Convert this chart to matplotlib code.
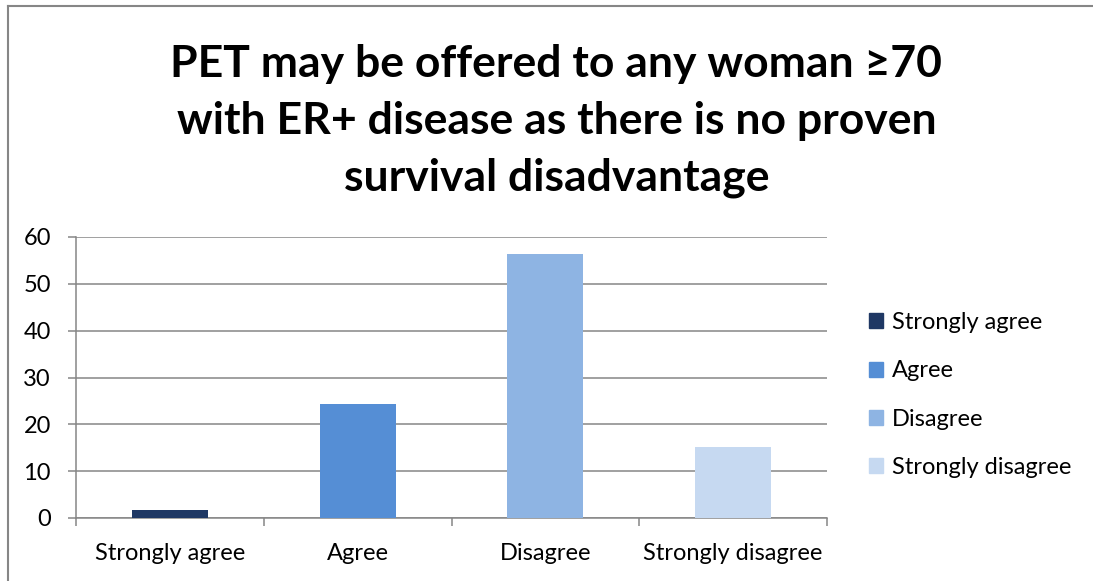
import matplotlib.pyplot as plt
from matplotlib.patches import Patch

categories = ["Strongly agree", "Agree", "Disagree", "Strongly disagree"]
values = [1.7, 24.3, 56.4, 15.2]
colors = ["#1F3864", "#558ED5", "#8EB4E3", "#C6D9F1"]
yticks = [0, 10, 20, 30, 40, 50, 60]
title = "PET may be offered to any woman \u226570\nwith ER+ disease as there is no proven\nsurvival disadvantage"

plt.rcParams['font.family'] = ['Lato', 'DejaVu Sans']

fig = plt.figure(figsize=(10.93, 5.81), dpi=100)
ax = fig.add_axes([76 / 1093, 1 - 518 / 581, (827 - 76) / 1093, (518 - 237) / 581])

x = range(len(categories))
ax.bar(x, values, width=0.405, color=colors, zorder=3)

ax.set_xlim(-0.5, 3.5)
ax.set_ylim(0, 60)
ax.set_yticks(yticks)
ax.set_xticks(x)
ax.set_xticklabels(categories, fontsize=17)
ax.tick_params(axis='y', labelsize=17, length=6, width=1.1, color="#868686", pad=12)
ax.tick_params(axis='x', length=0, pad=18)
# category boundary ticks below the axis
ax.set_xticks([-0.5, 0.5, 1.5, 2.5, 3.5], minor=True)
ax.tick_params(axis='x', which='minor', length=6, width=1.1, color="#868686")
ax.grid(axis='y', color="#868686", linewidth=1.1, zorder=0)
for s in ["top", "right"]:
    ax.spines[s].set_visible(False)
for s in ["left", "bottom"]:
    ax.spines[s].set_color("#868686")
    ax.spines[s].set_linewidth(1.1)

fig.text(0.509, 1 - 121 / 581, title, ha='center', va='center', fontsize=32,
         fontweight='bold', linespacing=1.5)

handles = [Patch(color=c) for c in colors]
fig.legend(handles, categories, loc='center left', bbox_to_anchor=(848 / 1093, 1 - 395 / 581),
           frameon=False, fontsize=17, handlelength=0.6, handleheight=0.6,
           handletextpad=0.35, labelspacing=1.15)

# outer chart border
fig.add_artist(plt.Line2D([8 / 1093, 8 / 1093], [0, 1 - 6 / 581], transform=fig.transFigure,
                          color="#868686", linewidth=1.5))
fig.add_artist(plt.Line2D([8 / 1093, 1], [1 - 6 / 581, 1 - 6 / 581], transform=fig.transFigure,
                          color="#868686", linewidth=1.5))

fig.savefig("out.png", dpi=100)
